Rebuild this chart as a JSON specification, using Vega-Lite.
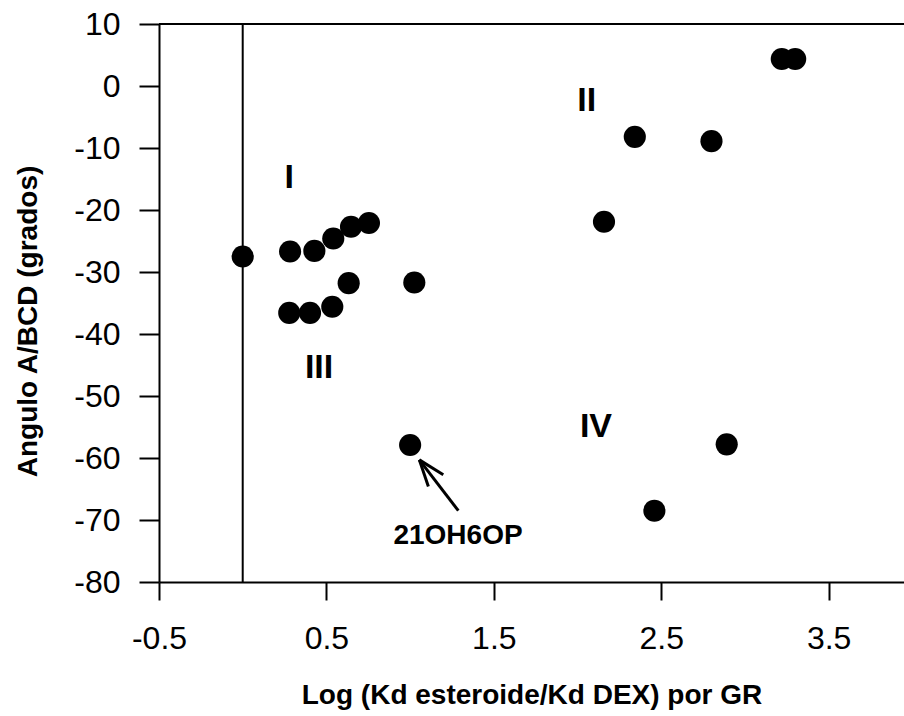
{
  "$schema": "https://vega.github.io/schema/vega-lite/v6.json",
  "autosize": {"type": "none"},
  "padding": {"left": 159, "top": 24, "right": 0, "bottom": 134},
  "width": 745,
  "height": 558,
  "background": "white",
  "config": {
    "view": {"stroke": null},
    "font": "Liberation Sans",
    "axis": {
      "domainColor": "black",
      "domainWidth": 2,
      "tickColor": "black",
      "tickWidth": 2,
      "grid": false,
      "labelColor": "black",
      "titleColor": "black",
      "labelFont": "Liberation Sans",
      "titleFont": "Liberation Sans"
    }
  },
  "datasets": {
    "points": [
      {"x": 0.0, "y": -27.5},
      {"x": 0.283, "y": -26.7},
      {"x": 0.428, "y": -26.6},
      {"x": 0.541, "y": -24.6},
      {"x": 0.647, "y": -22.7},
      {"x": 0.754, "y": -22.1},
      {"x": 0.278, "y": -36.6},
      {"x": 0.402, "y": -36.6},
      {"x": 0.535, "y": -35.6},
      {"x": 0.633, "y": -31.8},
      {"x": 1.025, "y": -31.7},
      {"x": 1.0, "y": -57.9},
      {"x": 2.158, "y": -21.9},
      {"x": 2.342, "y": -8.2},
      {"x": 2.8, "y": -8.9},
      {"x": 3.22, "y": 4.35},
      {"x": 3.3, "y": 4.35},
      {"x": 2.459, "y": -68.5},
      {"x": 2.891, "y": -57.8}
    ],
    "numerals": [
      {"x": 0.278, "y": -14.9, "label": "I"},
      {"x": 2.055, "y": -2.4, "label": "II"},
      {"x": 0.456, "y": -45.5, "label": "III"},
      {"x": 2.11, "y": -55.0, "label": "IV"}
    ],
    "notes": [
      {"x": 1.286, "y": -72.6, "label": "21OH6OP"}
    ],
    "arrow": [
      {"x": 1.288, "y": -68.5, "x2": 1.055, "y2": -60.3},
      {"x": 1.109, "y": -64.6, "x2": 1.055, "y2": -60.3},
      {"x": 1.198, "y": -62.7, "x2": 1.055, "y2": -60.3}
    ],
    "frame": [
      {"top": 10, "zeroline": 0}
    ]
  },
  "layer": [
    {
      "data": {"name": "points"},
      "mark": {"type": "point", "filled": true, "shape": "circle", "color": "black", "opacity": 1, "size": 490},
      "encoding": {
        "x": {
          "field": "x", "type": "quantitative",
          "scale": {"domain": [-0.5, 3.95], "nice": false, "zero": false},
          "axis": {
            "title": "Log (Kd esteroide/Kd DEX) por GR",
            "values": [-0.5, 0.5, 1.5, 2.5, 3.5],
            "format": ".1f",
            "labelExpr": "replace(datum.label, '\u2212', '-')",
            "labelFontSize": 32,
            "labelPadding": 23,
            "tickSize": 18,
            "titleFontSize": 28,
            "titleFontWeight": "bold",
            "titlePadding": 27,
            "labelFlush": false
          }
        },
        "y": {
          "field": "y", "type": "quantitative",
          "scale": {"domain": [-80, 10], "nice": false, "zero": false},
          "axis": {
            "title": "Angulo A/BCD (grados)",
            "values": [10, 0, -10, -20, -30, -40, -50, -60, -70, -80],
            "labelExpr": "replace(datum.label, '\u2212', '-')",
            "labelFontSize": 32,
            "labelPadding": 19,
            "tickSize": 20,
            "titleFontSize": 28,
            "titleFontWeight": "bold",
            "titleX": -117,
            "titleY": 297,
            "labelFlush": false
          }
        }
      }
    },
    {
      "data": {"name": "frame"},
      "mark": {"type": "rule", "color": "black", "strokeWidth": 2},
      "encoding": {"y": {"field": "top", "type": "quantitative"}}
    },
    {
      "data": {"name": "frame"},
      "mark": {"type": "rule", "color": "black", "strokeWidth": 2},
      "encoding": {"x": {"field": "zeroline", "type": "quantitative"}}
    },
    {
      "data": {"name": "numerals"},
      "mark": {"type": "text", "font": "Liberation Sans", "fontWeight": "bold", "fontSize": 34, "color": "black", "align": "center", "baseline": "middle"},
      "encoding": {
        "x": {"field": "x", "type": "quantitative"},
        "y": {"field": "y", "type": "quantitative"},
        "text": {"field": "label"}
      }
    },
    {
      "data": {"name": "notes"},
      "mark": {"type": "text", "font": "Liberation Sans", "fontWeight": "bold", "fontSize": 28, "color": "black", "align": "center", "baseline": "middle"},
      "encoding": {
        "x": {"field": "x", "type": "quantitative"},
        "y": {"field": "y", "type": "quantitative"},
        "text": {"field": "label"}
      }
    },
    {
      "data": {"name": "arrow"},
      "mark": {"type": "rule", "color": "black", "strokeWidth": 3},
      "encoding": {
        "x": {"field": "x", "type": "quantitative"},
        "y": {"field": "y", "type": "quantitative"},
        "x2": {"field": "x2"},
        "y2": {"field": "y2"}
      }
    }
  ]
}
